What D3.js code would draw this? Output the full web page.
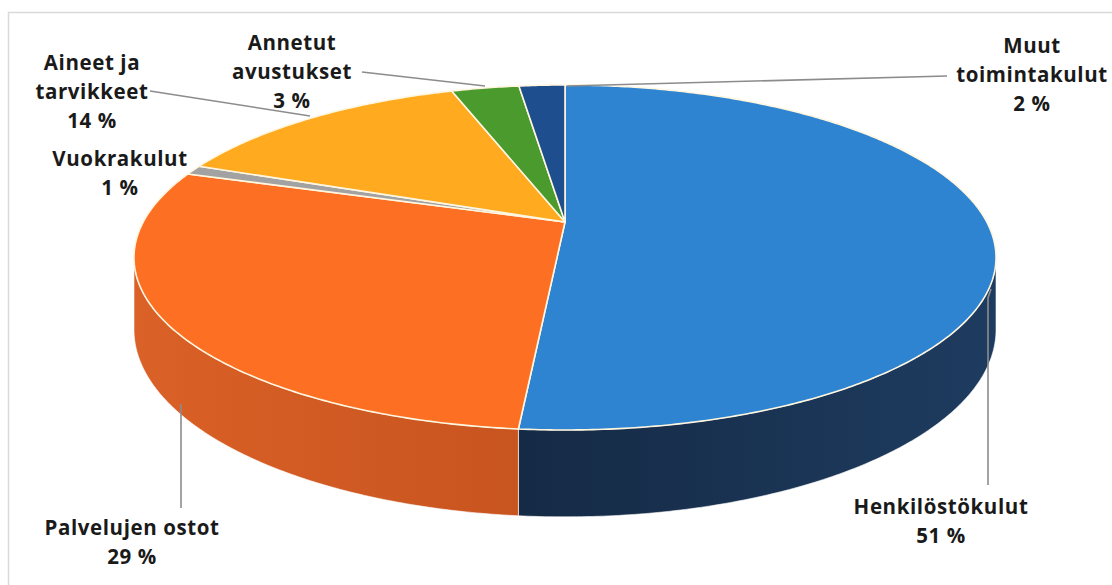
<!DOCTYPE html>
<html><head><meta charset="utf-8">
<script src="https://cdn.jsdelivr.net/npm/d3@7"></script>
<style>body{margin:0;background:#fff} svg{display:block}</style>
</head><body>
<svg id="chart" width="1112" height="585"></svg>
<script>
// ---- data ----
const categories = ["Henkilöstökulut","Palvelujen ostot","Vuokrakulut","Aineet ja tarvikkeet","Annetut avustukset","Muut toimintakulut"];
const values = [51.4, 28.6, 0.9, 13.9, 3.1, 2.1];
const labelLines = [["Henkilöstökulut"],["Palvelujen ostot"],["Vuokrakulut"],["Aineet ja","tarvikkeet"],["Annetut","avustukset"],["Muut","toimintakulut"]];

// ---- style / layout ----
const topColors = ["#2E84D0","#FD7023","#A2A2A2","#FFAA1F","#4B9A2E","#1F4E8F"];
const sideLight = ["#1E3C60","#DA6127","#7a7a7a","#d08a1a","#3c7a25","#183d70"];
const sideDark  = ["#152A45","#C8541F","#5e5e5e","#b57414","#2e611c","#102b50"];
const labelPos = [[941,506],[132,527],[120,158],[92,62],[292,42],[1032,45]];
const leaders = [
  [[991,289],[988,298],[988,485]],
  [[181,404],[181,508]],
  null,
  [[150,91],[310,116]],
  [[362,72],[485,86]],
  [[947,76],[567,86]]
];

const svg = d3.select("#chart");
svg.append("rect").attr("x",8.5).attr("y",12.5).attr("width",1120).attr("height",600)
  .attr("fill","#fff").attr("stroke","#d9d9d9").attr("stroke-width",1.5);

// perspective projection of the tilted disk
const cx = 565, cy = 222, K = 421.8, G = 165.2, c = 0.2057, H = 69;
function proj(t, drop){
  const s = 1/(1 + c*Math.cos(t));
  return [cx + K*Math.sin(t)*s, cy - G*Math.cos(t)*s + (drop||0)*s];
}
function arcPts(a0, a1, drop){
  const n = Math.max(2, Math.ceil(Math.abs(a1-a0)/0.01));
  return d3.range(n+1).map(i => proj(a0 + (a1-a0)*i/n, drop));
}

const pie = d3.pie().sort(null).value(d => d);
const arcs = pie(values);
const color = d3.scaleOrdinal().domain(categories).range(topColors);
const line = d3.line();

const defs = svg.append("defs");
const tL = Math.acos(-c), tR = 2*Math.PI - Math.acos(-c);

// side walls
arcs.forEach((a, i) => {
  const lo = Math.max(a.startAngle, tL), hi = Math.min(a.endAngle, tR);
  if (hi <= lo) return;
  const gid = "sg" + i;
  const p0 = proj(lo), p1 = proj(hi);
  const g = defs.append("linearGradient").attr("id", gid).attr("gradientUnits","userSpaceOnUse")
    .attr("x1", Math.min(p0[0],p1[0])).attr("x2", Math.max(p0[0],p1[0])).attr("y1",0).attr("y2",0);
  g.append("stop").attr("offset","0%").attr("stop-color", i===0 ? sideDark[i] : sideLight[i]);
  g.append("stop").attr("offset","100%").attr("stop-color", i===0 ? sideLight[i] : sideDark[i]);
  const pts = arcPts(lo, hi, 0).concat(arcPts(hi, lo, H));
  svg.append("path").attr("d", line(pts) + "Z").attr("fill", "url(#"+gid+")")
    .attr("stroke", "#ffffff").attr("stroke-width", 1).attr("stroke-opacity", 0.6);
});

// top faces
arcs.forEach((a, i) => {
  const pts = [[cx, cy]].concat(arcPts(a.startAngle, a.endAngle, 0));
  svg.append("path").attr("d", line(pts) + "Z")
    .attr("fill", color(categories[i]))
    .attr("stroke", "#fff6e0").attr("stroke-width", 1.6).attr("stroke-linejoin","round");
});

// leader lines
leaders.forEach(l => {
  if (!l) return;
  svg.append("path").attr("d", line(l)).attr("fill","none")
    .attr("stroke","#8c8c8c").attr("stroke-width",1.6);
});

// labels
const fmt = v => d3.format(".0f")(v) + " %";
arcs.forEach((a, i) => {
  const lines = labelLines[i].concat([fmt(values[i])]);
  const t = svg.append("text")
    .attr("font-family","'Open Sans', Lato, sans-serif")
    .attr("font-weight","bold").attr("font-size",20.5)
    .attr("letter-spacing", 0.6)
    .attr("fill","#1a1a1a").attr("text-anchor","middle");
  lines.forEach((s, j) => {
    t.append("tspan").attr("x", labelPos[i][0]).attr("y", labelPos[i][1] + j*29)
      .attr("dominant-baseline","central").text(s);
  });
});
</script>
</body></html>
